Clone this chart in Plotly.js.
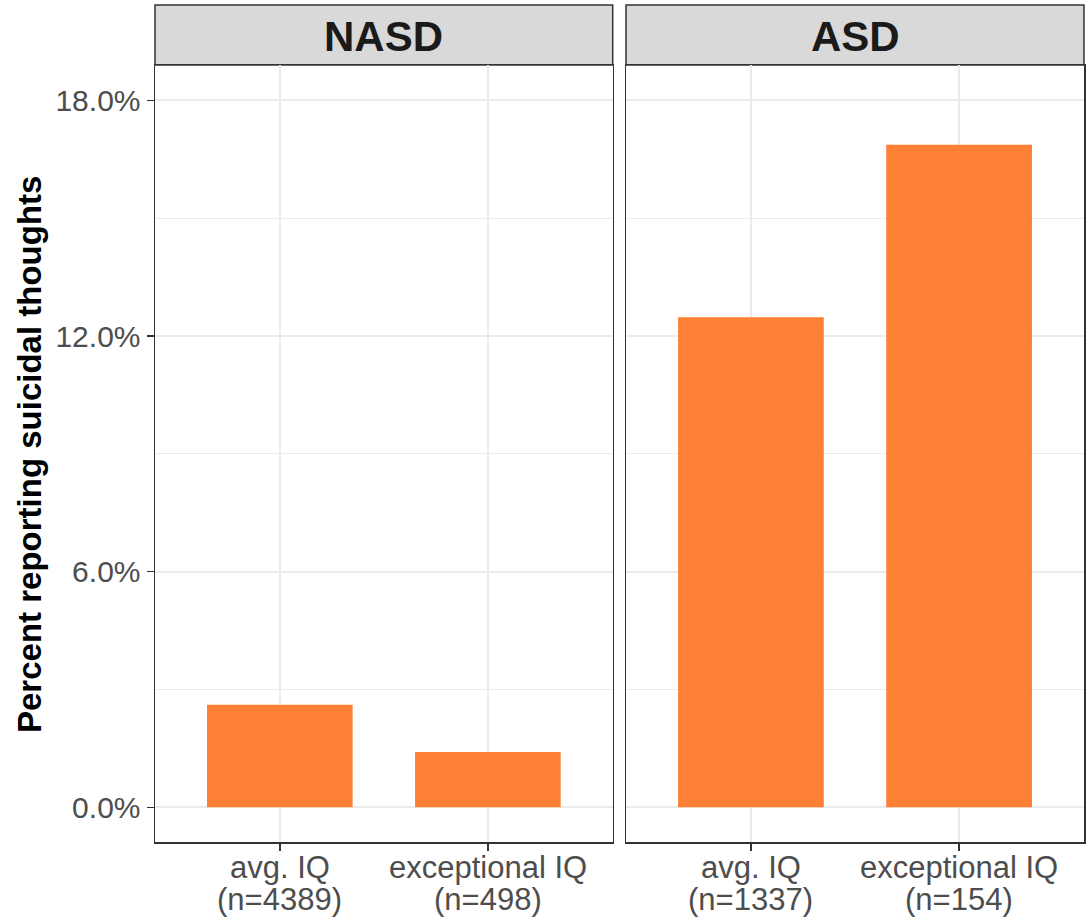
<!DOCTYPE html>
<html>
<head>
<meta charset="utf-8">
<script src="https://cdn.plot.ly/plotly-3.0.1.min.js"></script>
<style>
  html, body { margin: 0; padding: 0; background: #ffffff; }
  #chart { width: 1090px; height: 922px; }
</style>
</head>
<body>
<div id="chart"></div>
<script>
// Share of respondents reporting suicidal thoughts, by IQ group, split by diagnosis
const groups = ["NASD", "ASD"];
const categories = ["avg. IQ", "exceptional IQ"];
const sampleNASD = [4389, 498];
const sampleASD = [1337, 154];
const pctNASD = [2.61, 1.41];
const pctASD = [12.48, 16.87];

const yTicks = [0, 6, 12, 18];
const yTickText = yTicks.map(v => v.toFixed(1) + "%");

const W = 1090, H = 922;
const FONT = "Liberation Sans, Arial, Helvetica, sans-serif";
const BAR = "#FD8035";
const GRID = "#EBEBEB";
const BORDER = "#333333";

// panel boxes in pixels
const panelTop = 65, panelBottom = 842.3;
const panels = [
  { left: 155, right: 612.7 },
  { left: 626, right: 1084 }
];
const yDomain = [(H - panelBottom) / H, (H - panelTop) / H];

const traces = [
  {
    type: "bar", x: categories, y: pctNASD, xaxis: "x", yaxis: "y",
    width: 0.7, marker: { color: BAR, line: { width: 0 } }, hoverinfo: "y"
  },
  {
    type: "bar", x: categories, y: pctASD, xaxis: "x2", yaxis: "y2",
    width: 0.7, marker: { color: BAR, line: { width: 0 } }, hoverinfo: "y"
  }
];

function xAxis(p) {
  return {
    domain: [p.left / W, p.right / W],
    type: "category",
    categoryorder: "array",
    categoryarray: categories,
    range: [-0.6, 1.6],
    showgrid: true, gridcolor: GRID, gridwidth: 2,
    zeroline: false,
    showline: true, linecolor: BORDER, linewidth: 1.5, mirror: true,
    ticks: "outside", ticklen: 7, tickwidth: 1.5, tickcolor: BORDER,
    showticklabels: false,
    fixedrange: true
  };
}

function yAxis(anchor, labels) {
  return {
    domain: yDomain,
    anchor: anchor,
    range: [-0.89, 18.9],
    tickmode: "array",
    tickvals: yTicks,
    ticktext: yTickText,
    showgrid: true, gridcolor: GRID, gridwidth: 2,
    minor: { tickvals: [3, 9, 15], showgrid: true, gridcolor: GRID, gridwidth: 1.1, ticks: "" },
    zeroline: false,
    showline: true, linecolor: BORDER, linewidth: 1.5, mirror: true,
    ticks: labels ? "outside" : "", ticklen: 7, tickwidth: 1.5, tickcolor: BORDER,
    showticklabels: labels,
    tickfont: { family: FONT, size: 30, color: "#4D4D4D" },
    fixedrange: true
  };
}

const shapes = [];
const annotations = [];

// facet strips
groups.forEach((g, i) => {
  const xr = i === 0 ? "x domain" : "x2 domain";
  shapes.push({
    type: "rect", xref: xr, yref: "paper",
    x0: 0, x1: 1, y0: (H - panelTop) / H, y1: (H - 5) / H,
    fillcolor: "#D9D9D9", line: { color: BORDER, width: 1.5 }, layer: "below"
  });
  annotations.push({
    xref: xr, yref: "paper", x: 0.5, y: (H - 37) / H,
    xanchor: "center", yanchor: "middle", showarrow: false,
    text: "<b>" + g + "</b>",
    font: { family: FONT, size: 42, color: "#1A1A1A" }
  });
});

// category labels with sample sizes under each panel
[sampleNASD, sampleASD].forEach((ns, i) => {
  const xr = i === 0 ? "x" : "x2";
  categories.forEach((c, j) => {
    annotations.push({
      xref: xr, yref: "paper", x: c, y: (H - 867) / H,
      xanchor: "center", yanchor: "middle", showarrow: false,
      text: c, font: { family: FONT, size: 31, color: "#4D4D4D" }
    });
    annotations.push({
      xref: xr, yref: "paper", x: c, y: (H - 899) / H,
      xanchor: "center", yanchor: "middle", showarrow: false,
      text: "(n=" + ns[j] + ")", font: { family: FONT, size: 31, color: "#4D4D4D" }
    });
  });
});

// y-axis title
annotations.push({
  xref: "paper", yref: "paper", x: 29 / W, y: (H - 455) / H,
  xanchor: "center", yanchor: "middle", showarrow: false, textangle: -90,
  text: "<b>Percent reporting suicidal thoughts</b>",
  font: { family: FONT, size: 33, color: "#000000" }
});

const layout = {
  width: W, height: H,
  margin: { l: 0, r: 0, t: 0, b: 0 },
  paper_bgcolor: "#FFFFFF",
  plot_bgcolor: "#FFFFFF",
  showlegend: false,
  bargap: 0.3,
  font: { family: FONT },
  xaxis: xAxis(panels[0]),
  xaxis2: xAxis(panels[1]),
  yaxis: yAxis("x", true),
  yaxis2: yAxis("x2", false),
  shapes: shapes,
  annotations: annotations
};
layout.xaxis.anchor = "y";
layout.xaxis2.anchor = "y2";

Plotly.newPlot("chart", traces, layout, { displayModeBar: false, staticPlot: true });
</script>
</body>
</html>
